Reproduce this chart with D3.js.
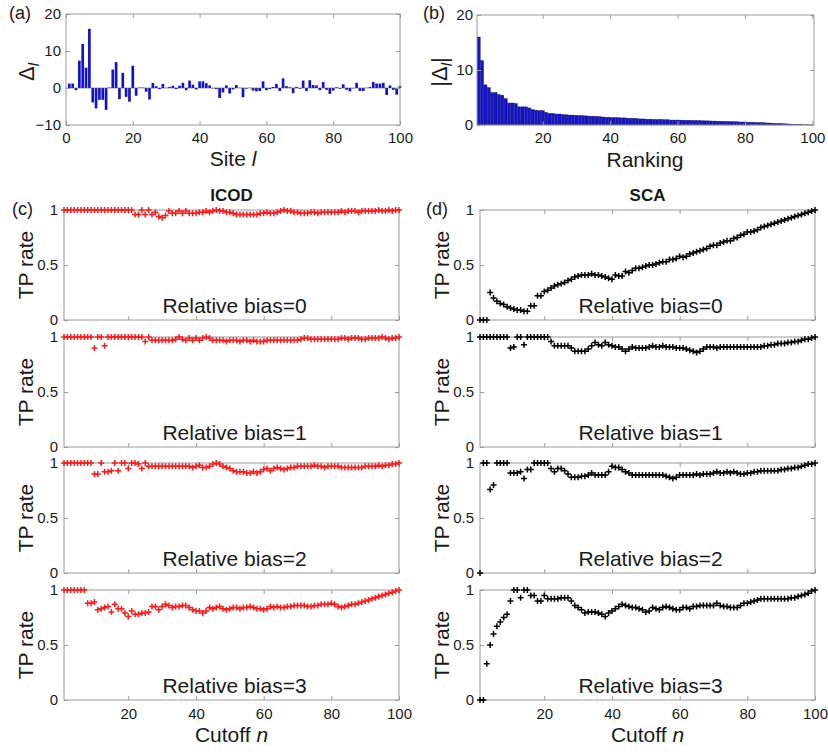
<!DOCTYPE html>
<html>
<head>
<meta charset="utf-8">
<script src="https://cdn.jsdelivr.net/npm/d3@7"></script>
<style>
html,body{margin:0;padding:0;background:#fff;}
svg{display:block;font-family:"Liberation Sans",Arial,Helvetica,sans-serif;}
</style>
</head>
<body>
<svg id="chart" width="828" height="752"></svg>
<script>
// ---------------- DATA ----------------
const siteDelta = [1.2, 1.2, -0.6, 7.4, 11.9, 5.5, 16.0, -3.9, -5.5, -3.2,
 -3.2, -5.9, 0.1, 5.0, 7.0, -3.0, 4.1, -2.4, -3.7, 6.0,
 -2.1, 0.1, 0.1, -1.0, -3.1, 1.35, 0.5, -0.3, 1.1, 0.05,
 0.3, 0.6, -0.3, 0.6, 1.4, -0.6, 2.0, 0.9, -0.4, 1.8,
 1.8, 1.3, 0.7, -0.1, -0.3, -2.7, -1.2, 0.7, -1.5, -0.4,
 0.8, 0.05, -2.5, -0.2, 0.05, -0.7, -0.9, -0.8, 1.8, -0.6,
 -0.3, 0.3, 1.1, -0.8, 2.6, 0.5, 0.2, -1.4, 0.3, -0.2,
 2.0, -0.8, 2.1, 0.8, 0.7, -0.6, 1.6, -0.5, -1.6, -0.7,
 0.2, -0.2, 1.0, -0.5, -0.9, -0.1, 1.4, -0.8, -0.8, 0.05,
 0.3, 1.6, 1.2, 1.2, 1.4, -1.9, 0.7, -0.5, -1.8, 0.6];

const rankAbsDelta = [16.0, 11.7, 7.3, 6.8, 5.9, 5.9, 5.5, 5.4, 4.8, 4.0,
 4.0, 3.9, 3.3, 3.3, 3.3, 3.1, 2.8, 2.7, 2.6, 2.6,
 2.3, 2.1, 2.1, 2.0, 2.0, 1.9, 1.85, 1.8, 1.8, 1.75,
 1.7, 1.7, 1.65, 1.6, 1.6, 1.55, 1.5, 1.45, 1.4, 1.4,
 1.35, 1.35, 1.3, 1.3, 1.25, 1.2, 1.2, 1.15, 1.1, 1.1,
 1.05, 1.05, 1.0, 1.0, 1.0, 0.95, 0.95, 0.9, 0.9, 0.9,
 0.88, 0.86, 0.85, 0.84, 0.82, 0.8, 0.78, 0.76, 0.75, 0.73,
 0.71, 0.69, 0.67, 0.65, 0.63, 0.61, 0.59, 0.57, 0.55, 0.53,
 0.5, 0.48, 0.46, 0.44, 0.42, 0.39, 0.36, 0.33, 0.3, 0.27,
 0.24, 0.21, 0.18, 0.15, 0.12, 0.1, 0.07, 0.05, 0.03, 0.01];

const cutoffs = d3.range(1, 101);

const icodBias0 = [1,1,1,1,1,1,1,1,1,1, 1,1,1,1,1,1,1,1,1,1,
 1.0, 0.96, 0.96, 1.0, 0.96, 1.0, 0.96, 0.98, 0.94, 0.93,
 0.95, 0.99, 0.97, 0.97, 0.99, 0.97, 0.99, 0.97, 0.97, 0.97,
 0.98, 0.98, 0.99, 0.98, 0.99, 1.0, 0.99, 0.99, 0.98, 0.98,
 0.97, 0.96, 0.96, 0.96, 0.96, 0.96, 0.96, 0.96, 0.97, 0.97,
 0.98, 0.97, 0.97, 0.98, 0.99, 1.0, 0.99, 0.99, 0.98, 0.98,
 0.97, 0.97, 0.97, 0.98, 0.98, 0.97, 0.98, 0.98, 0.98, 0.98,
 0.98, 0.98, 0.99, 0.98, 0.99, 0.99, 0.99, 0.98, 0.99, 0.99,
 0.99, 0.99, 0.99, 1.0, 0.99, 0.99, 1.0, 0.99, 1.0, 1.0];

const icodBias1 = [1,1,1,1,1,1,1,1,1,0.9,
 1.0, 1.0, 0.92, 1,1,1,1,1,1,1,
 1,1,1,1, 0.96, 1.0, 0.97, 0.97, 0.97, 0.97,
 0.97, 0.97, 0.97, 0.98, 1.0, 0.98, 0.97, 0.99, 0.97, 0.99,
 0.97, 0.99, 1.0, 0.99, 0.97, 0.97, 0.97, 0.97, 0.96, 0.97,
 0.97, 0.97, 0.96, 0.97, 0.97, 0.96, 0.97, 0.96, 0.96, 0.96,
 0.97, 0.97, 0.97, 0.97, 0.97, 0.97, 0.97, 0.97, 0.97, 0.97,
 0.98, 0.99, 0.99, 0.98, 0.98, 0.98, 0.98, 0.98, 0.98, 0.98,
 0.98, 0.98, 0.99, 0.99, 0.98, 0.99, 0.99, 0.99, 0.98, 0.98,
 0.99, 0.99, 0.99, 0.99, 1.0, 0.99, 0.98, 0.99, 0.99, 1.0];

const icodBias2 = [1,1,1,1,1,1,1,1,1,0.9,
 0.9, 1.0, 0.92, 0.92, 0.93, 1.0, 0.93, 1.0, 1.0, 0.95,
 1.0, 1.0, 0.99, 0.95, 1.0, 0.97, 0.97, 0.97, 0.97, 0.97,
 0.97, 0.97, 0.97, 0.97, 0.97, 0.97, 0.97, 0.97, 0.96, 0.97,
 0.98, 0.96, 0.96, 0.97, 0.99, 1.0, 0.99, 0.97, 0.96, 0.95,
 0.93, 0.92, 0.92, 0.92, 0.91, 0.91, 0.92, 0.91, 0.92, 0.94,
 0.95, 0.93, 0.95, 0.96, 0.95, 0.94, 0.95, 0.96, 0.96, 0.97,
 0.97, 0.97, 0.97, 0.97, 0.98, 0.97, 0.97, 0.96, 0.97, 0.97,
 0.97, 0.97, 0.96, 0.96, 0.96, 0.96, 0.96, 0.96, 0.96, 0.97,
 0.97, 0.97, 0.97, 0.98, 0.97, 0.98, 0.98, 0.99, 0.99, 1.0];

const icodBias3 = [1,1,1,1,1,1,1, 0.88, 0.88, 0.89,
 0.82, 0.83, 0.84, 0.85, 0.8, 0.87, 0.83, 0.83, 0.79, 0.76,
 0.81, 0.78, 0.78, 0.79, 0.79, 0.8, 0.85, 0.85, 0.82, 0.85,
 0.87, 0.86, 0.84, 0.85, 0.85, 0.86, 0.86, 0.84, 0.82, 0.81,
 0.81, 0.79, 0.81, 0.84, 0.83, 0.84, 0.85, 0.83, 0.82, 0.83,
 0.84, 0.84, 0.83, 0.84, 0.84, 0.85, 0.84, 0.83, 0.83, 0.82,
 0.83, 0.85, 0.84, 0.85, 0.84, 0.84, 0.85, 0.85, 0.86, 0.86,
 0.86, 0.86, 0.85, 0.85, 0.86, 0.86, 0.87, 0.87, 0.87, 0.88,
 0.87, 0.85, 0.84, 0.85, 0.86, 0.87, 0.87, 0.88, 0.89, 0.9,
 0.91, 0.92, 0.93, 0.94, 0.95, 0.96, 0.97, 0.98, 0.99, 1.0];

const scaBias0 = [0, 0, 0, 0.25, 0.2, 0.17, 0.15, 0.14, 0.12, 0.11,
 0.1, 0.09, 0.09, 0.08, 0.08, 0.13, 0.13, 0.22, 0.22, 0.26,
 0.27, 0.29, 0.31, 0.32, 0.33, 0.34, 0.36, 0.37, 0.39, 0.4,
 0.41, 0.41, 0.41, 0.42, 0.41, 0.41, 0.4, 0.39, 0.38, 0.37,
 0.41, 0.4, 0.4, 0.44, 0.43, 0.45, 0.47, 0.47, 0.48, 0.49,
 0.5, 0.5, 0.51, 0.52, 0.53, 0.53, 0.55, 0.55, 0.56, 0.58,
 0.57, 0.58, 0.6, 0.61, 0.62, 0.63, 0.64, 0.65, 0.67, 0.68,
 0.68, 0.7, 0.71, 0.72, 0.72, 0.74, 0.75, 0.77, 0.78, 0.8,
 0.8, 0.81, 0.82, 0.84, 0.85, 0.86, 0.87, 0.88, 0.89, 0.9,
 0.91, 0.92, 0.93, 0.94, 0.95, 0.96, 0.97, 0.98, 0.99, 1.0];

const scaBias1 = [1,1,1,1,1,1,1,1,1,0.9,
 0.91, 1.0, 1.0, 0.93, 1.0, 1.0, 1.0, 1.0, 1.0, 1.0,
 1.0, 0.96, 0.92, 0.92, 0.92, 0.92, 0.92, 0.9, 0.87, 0.87,
 0.87, 0.87, 0.89, 0.92, 0.95, 0.93, 0.92, 0.95, 0.93, 0.92,
 0.91, 0.91, 0.89, 0.87, 0.89, 0.91, 0.9, 0.9, 0.9, 0.9,
 0.91, 0.92, 0.91, 0.91, 0.92, 0.91, 0.91, 0.91, 0.9, 0.9,
 0.9, 0.89, 0.88, 0.87, 0.86, 0.87, 0.89, 0.91, 0.91, 0.91,
 0.9, 0.91, 0.91, 0.91, 0.91, 0.91, 0.91, 0.91, 0.91, 0.91,
 0.91, 0.91, 0.91, 0.91, 0.92, 0.92, 0.93, 0.93, 0.94, 0.94,
 0.94, 0.95, 0.95, 0.96, 0.96, 0.97, 0.98, 0.98, 0.99, 1.0];

const scaBias2 = [0, 1.0, 1.0, 0.76, 0.8, 1.0, 1.0, 1.0, 1.0, 0.91,
 0.91, 0.91, 0.92, 0.86, 0.94, 0.94, 1.0, 1.0, 1.0, 1.0,
 1.0, 0.95, 0.92, 0.95, 0.95, 0.93, 0.9, 0.87, 0.87, 0.87,
 0.88, 0.88, 0.89, 0.91, 0.89, 0.89, 0.89, 0.89, 0.92, 0.97,
 0.96, 0.96, 0.94, 0.92, 0.91, 0.89, 0.89, 0.89, 0.89, 0.89,
 0.89, 0.89, 0.89, 0.89, 0.89, 0.88, 0.87, 0.86, 0.87, 0.89,
 0.89, 0.89, 0.89, 0.89, 0.9, 0.89, 0.9, 0.9, 0.9, 0.91,
 0.92, 0.91, 0.91, 0.92, 0.91, 0.92, 0.91, 0.9, 0.9, 0.91,
 0.91, 0.92, 0.92, 0.93, 0.93, 0.93, 0.93, 0.93, 0.93, 0.94,
 0.94, 0.95, 0.95, 0.96, 0.96, 0.97, 0.98, 0.99, 0.99, 1.0];

const scaBias3 = [0, 0, 0.33, 0.5, 0.6, 0.67, 0.71, 0.75, 0.78, 0.9,
 1.0, 1.0, 0.93, 1.0, 1.0, 0.95, 0.95, 0.9, 0.9, 0.95,
 0.92, 0.92, 0.92, 0.92, 0.93, 0.93, 0.93, 0.9, 0.86, 0.84,
 0.82, 0.79, 0.8, 0.8, 0.8, 0.79, 0.78, 0.76, 0.79, 0.81,
 0.83, 0.85, 0.87, 0.86, 0.85, 0.84, 0.84, 0.83, 0.82, 0.8,
 0.81, 0.84, 0.83, 0.82, 0.84, 0.85, 0.84, 0.83, 0.82, 0.82,
 0.84, 0.84, 0.83, 0.85, 0.85, 0.86, 0.86, 0.86, 0.86, 0.86,
 0.88, 0.86, 0.85, 0.85, 0.84, 0.84, 0.84, 0.86, 0.88, 0.88,
 0.89, 0.9, 0.91, 0.92, 0.92, 0.92, 0.92, 0.92, 0.92, 0.92,
 0.92, 0.92, 0.93, 0.93, 0.94, 0.95, 0.96, 0.97, 0.99, 1.0];

const biasLabels = ["Relative bias=0", "Relative bias=1", "Relative bias=2", "Relative bias=3"];
const icodSeries = [icodBias0, icodBias1, icodBias2, icodBias3];
const scaSeries = [scaBias0, scaBias1, scaBias2, scaBias3];
const siteTicks = [0, 20, 40, 60, 80, 100];
const deltaTicks = [-10, 0, 10, 20];
const rankTicks = [20, 40, 60, 80, 100];
const absTicks = [0, 10, 20];
const cutoffTicks = [20, 40, 60, 80, 100];
const rateTicks = [0, 0.5, 1];

// ---------------- DRAWING ----------------
const svg = d3.select("#chart");
const BOX = "#9a9a9a";
const TXT = "#1a1a1a";
const TICKFS = 15;

function frame(x, y, xTicks, yTicks, showXLabels, xPad, yPad, yFmt) {
  const [x0, x1] = x.range();
  const [y0, y1] = y.range();
  const g = svg.append("g");
  g.append("rect").attr("x", x0).attr("y", y1).attr("width", x1 - x0).attr("height", y0 - y1)
    .attr("fill", "none").attr("stroke", BOX).attr("stroke-width", 1);
  const ax = d3.axisBottom(x).tickValues(xTicks).tickSize(-4).tickPadding(xPad);
  if (!showXLabels) ax.tickFormat(() => "");
  const gx = g.append("g").attr("transform", `translate(0,${y0})`).call(ax);
  const gxt = g.append("g").attr("transform", `translate(0,${y1})`).call(d3.axisTop(x).tickValues(xTicks).tickSize(-4).tickFormat(() => ""));
  const ay = d3.axisLeft(y).tickValues(yTicks).tickSize(-4).tickPadding(yPad);
  if (yFmt) ay.tickFormat(yFmt);
  const gy = g.append("g").attr("transform", `translate(${x0},0)`).call(ay);
  const gyr = g.append("g").attr("transform", `translate(${x1},0)`).call(d3.axisRight(y).tickValues(yTicks).tickSize(-4).tickFormat(() => ""));
  [gx, gxt, gy, gyr].forEach(a => {
    a.select(".domain").remove();
    a.selectAll(".tick line").attr("stroke", BOX);
    a.selectAll("text").attr("font-size", TICKFS).attr("fill", TXT)
      .attr("font-family", '"Liberation Sans",Arial,Helvetica,sans-serif');
  });
  return g;
}

// Panel (a)
const xA = d3.scaleLinear().domain([0, 100]).range([66, 400]);
const yA = d3.scaleLinear().domain([-10, 20]).range([125, 14]);
svg.append("g").selectAll("rect").data(siteDelta).join("rect")
  .attr("x", (d, i) => xA(i + 1 - 0.4))
  .attr("width", xA(0.8) - xA(0))
  .attr("y", d => yA(Math.max(0, d)))
  .attr("height", d => Math.abs(yA(d) - yA(0)))
  .attr("fill", "#1212cc");
svg.append("line").attr("x1", xA(0)).attr("x2", xA(100)).attr("y1", yA(0)).attr("y2", yA(0))
  .attr("stroke", "#555").attr("stroke-width", 0.6);
frame(xA, yA, siteTicks, deltaTicks, true, 7, 5, d3.format("d"));

// Panel (b)
const xB = d3.scaleLinear().domain([0.5, 100.5]).range([477, 814]);
const yB = d3.scaleLinear().domain([0, 20]).range([125, 15]);
svg.append("g").selectAll("rect").data(rankAbsDelta).join("rect")
  .attr("x", (d, i) => xB(i + 1 - 0.45))
  .attr("width", xB(0.9) - xB(0))
  .attr("y", d => yB(d))
  .attr("height", d => yB(0) - yB(d))
  .attr("fill", "#1414c8").attr("stroke", "#0a0a70").attr("stroke-width", 0.4);
frame(xB, yB, rankTicks, absTicks, true, 7, 4, d3.format("d"));

// Bottom panels
const tops = [210, 337, 463, 590];
const plotH = 110;
const plus = "M-3,0H3M0,-3V3";

function tpPanel(xr, series, color, idx) {
  const top = tops[idx];
  const x = d3.scaleLinear().domain([1, 100]).range(xr);
  const y = d3.scaleLinear().domain([0, 1]).range([top + plotH, top]);
  frame(x, y, cutoffTicks, rateTicks, idx === 3, 8, 6, d => d === 0.5 ? "0.5" : d3.format("d")(d));
  svg.append("text").attr("x", (xr[0] + xr[1]) / 2 + 3).attr("y", top + plotH - 7)
    .attr("text-anchor", "middle").attr("font-size", 21).attr("fill", TXT).text(biasLabels[idx]);
  svg.append("g").selectAll("path").data(series).join("path")
    .attr("transform", (d, i) => `translate(${x(cutoffs[i])},${y(d)})`)
    .attr("d", plus).attr("stroke", color).attr("stroke-width", 1.5).attr("fill", "none");
  svg.append("text")
    .attr("transform", `translate(${xr[0] - 31},${top + plotH / 2}) rotate(-90)`)
    .attr("text-anchor", "middle").attr("font-size", 21).attr("fill", TXT).text("TP rate");
}
for (let i = 0; i < 4; i++) {
  tpPanel([64, 399], icodSeries[i], "#ff1a1a", i);
  tpPanel([480, 815], scaSeries[i], "#000000", i);
}

// Text labels
function txt(x, y, s, opts = {}) {
  return svg.append("text").attr("x", x).attr("y", y).attr("font-size", opts.fs || 21)
    .attr("text-anchor", opts.anchor || "start").attr("font-weight", opts.fw || "normal")
    .attr("fill", TXT).text(s);
}
txt(9, 19, "(a)", { fs: 18 });
txt(423, 19, "(b)", { fs: 18 });
txt(12, 215, "(c)", { fs: 18 });
txt(426, 215, "(d)", { fs: 18 });
txt(231.5, 201, "ICOD", { fs: 17, anchor: "middle", fw: "bold" });
txt(647.5, 201, "SCA", { fs: 17, anchor: "middle", fw: "bold" });

const sl = txt(233, 166, "Site ", { anchor: "middle" });
sl.append("tspan").attr("font-style", "italic").text("l");
txt(645, 167, "Ranking", { anchor: "middle" });
[231.5, 647.5].forEach(cx => {
  const t = txt(cx, 742, "Cutoff ", { anchor: "middle" });
  t.append("tspan").attr("font-style", "italic").text("n");
});

const ya = svg.append("text").attr("transform", "translate(34,72) rotate(-90)")
  .attr("text-anchor", "middle").attr("font-size", 22).attr("fill", TXT).text("Δ");
ya.append("tspan").attr("font-style", "italic").attr("font-size", 15).attr("dy", 5).text("l");
const yb = svg.append("text").attr("transform", "translate(447,72) rotate(-90)")
  .attr("text-anchor", "middle").attr("font-size", 22).attr("fill", TXT).text("|Δ");
yb.append("tspan").attr("font-style", "italic").attr("font-size", 15).attr("dy", 5).text("l");
yb.append("tspan").attr("dy", -5).text("|");
</script>
</body>
</html>
